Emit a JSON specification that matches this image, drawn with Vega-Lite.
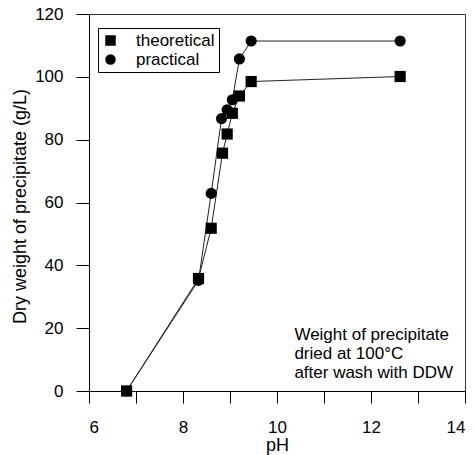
{
  "$schema": "https://vega.github.io/schema/vega-lite/v6.json",
  "width": 376,
  "height": 377,
  "autosize": "none",
  "padding": {"left": 89, "top": 14, "right": 10, "bottom": 64},
  "config": {
    "font": "Liberation Sans",
    "view": {"stroke": "#333", "strokeWidth": 1},
    "axis": {"grid": false, "domainColor": "black", "tickColor": "black", "labelColor": "black", "titleColor": "black", "labelFontSize": 17, "titleFontSize": 18, "titleFontWeight": "normal", "domainWidth": 1, "tickWidth": 1}
  },
  "datasets": {
    "pts": [
      {"pH": 6.8, "w": 0, "series": "theoretical"},
      {"pH": 8.33, "w": 35.8, "series": "theoretical"},
      {"pH": 8.6, "w": 51.8, "series": "theoretical"},
      {"pH": 8.84, "w": 75.7, "series": "theoretical"},
      {"pH": 8.94, "w": 81.8, "series": "theoretical"},
      {"pH": 9.05, "w": 88.4, "series": "theoretical"},
      {"pH": 9.2, "w": 93.9, "series": "theoretical"},
      {"pH": 9.45, "w": 98.5, "series": "theoretical"},
      {"pH": 12.62, "w": 100.1, "series": "theoretical"},
      {"pH": 6.8, "w": 0, "series": "practical"},
      {"pH": 8.33, "w": 35.2, "series": "practical"},
      {"pH": 8.6, "w": 62.9, "series": "practical"},
      {"pH": 8.82, "w": 86.7, "series": "practical"},
      {"pH": 8.94, "w": 89.5, "series": "practical"},
      {"pH": 9.05, "w": 92.7, "series": "practical"},
      {"pH": 9.2, "w": 105.7, "series": "practical"},
      {"pH": 9.45, "w": 111.4, "series": "practical"},
      {"pH": 12.62, "w": 111.4, "series": "practical"}
    ],
    "notes": [
      {"pH": 10.37, "w": 17.76, "t": "Weight of precipitate"},
      {"pH": 10.37, "w": 11.86, "t": "dried at 100°C"},
      {"pH": 10.37, "w": 5.74, "t": "after wash with DDW"}
    ]
  },
  "layer": [
    {
      "data": {"name": "pts"},
      "mark": {"type": "line", "color": "#222", "strokeWidth": 1},
      "encoding": {
        "x": {"field": "pH", "type": "quantitative", "scale": {"domain": [6, 14], "nice": false, "zero": false},
              "axis": {"orient": "bottom", "values": [6, 7, 8, 9, 10, 11, 12, 13, 14],
                       "labelExpr": "datum.value % 2 === 0 ? datum.label : ''",
                       "tickSize": 12,
                       "encode": {"ticks": {"update": {"y2": {"signal": "datum.value % 2 === 0 ? 12 : 6"}}}},
                       "labelPadding": 16, "title": "pH", "titleBaseline": "alphabetic", "titleY": 59.5}},
        "y": {"field": "w", "type": "quantitative", "scale": {"domain": [0, 120], "nice": false},
              "axis": {"orient": "left", "values": [0, 10, 20, 30, 40, 50, 60, 70, 80, 90, 100, 110, 120],
                       "labelExpr": "datum.value % 20 === 0 ? datum.label : ''",
                       "tickSize": 13,
                       "encode": {"ticks": {"update": {"x2": {"signal": "datum.value % 20 === 0 ? -13 : -7"}}}},
                       "labelPadding": 13, "title": "Dry weight of precipitate (g/L)", "titleBaseline": "alphabetic", "titleX": -64, "titleY": 192}},
        "detail": {"field": "series"},
        "order": {"field": "pH"}
      }
    },
    {
      "data": {"name": "pts"},
      "mark": {"type": "point", "filled": true, "color": "black", "opacity": 1, "size": 125},
      "encoding": {
        "x": {"field": "pH", "type": "quantitative"},
        "y": {"field": "w", "type": "quantitative"},
        "shape": {"field": "series", "type": "nominal",
                  "scale": {"domain": ["theoretical", "practical"], "range": ["square", "circle"]},
                  "legend": {"orient": "none", "legendX": 9, "legendY": 14, "title": null, "strokeColor": "black", "padding": 4, "labelFontSize": 17, "labelColor": "black", "symbolSize": 110, "symbolFillColor": "black", "symbolStrokeColor": "black", "symbolStrokeWidth": 0, "rowPadding": 1, "labelOffset": 17, "cornerRadius": 0}}
      }
    },
    {
      "data": {"name": "notes"},
      "mark": {"type": "text", "align": "left", "baseline": "middle", "fontSize": 17, "color": "black"},
      "encoding": {
        "x": {"field": "pH", "type": "quantitative"},
        "y": {"field": "w", "type": "quantitative"},
        "text": {"field": "t"}
      }
    }
  ]
}
